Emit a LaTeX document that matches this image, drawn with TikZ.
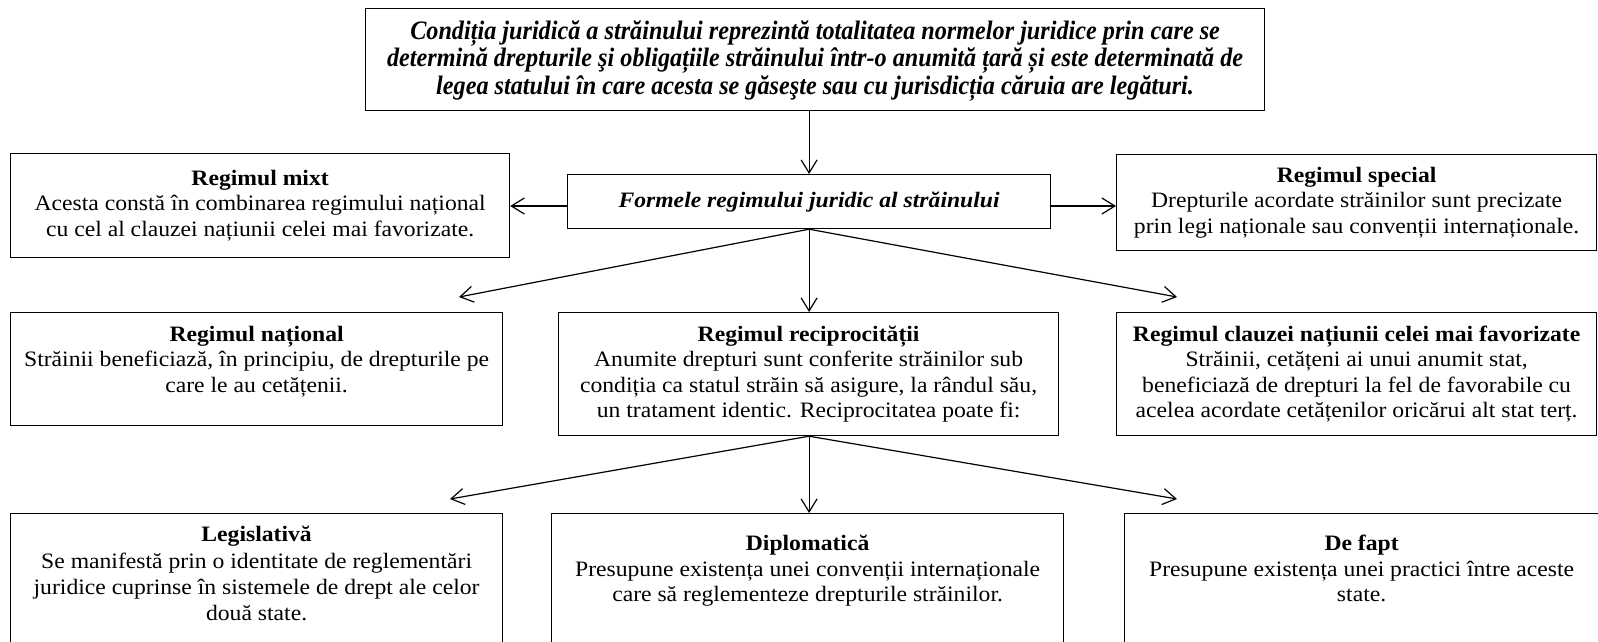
\documentclass[tikz,border=0pt]{standalone}
\usepackage{fontspec}
\setmainfont{Liberation Serif}[FakeStretch=1.075]
\newfontfamily\topfont{Liberation Serif}[FakeStretch=0.91]
\usetikzlibrary{arrows.meta,calc}
\tikzset{
  box/.style={draw=black, line width=1.2pt, rectangle, inner sep=0pt},
  txt/.style={align=center, inner sep=0pt, font=\fontsize{22}{25.5}\selectfont},
  toptxt/.style={align=center, inner sep=0pt, font=\topfont\fontsize{26.6}{27.5}\selectfont\bfseries\itshape},
  arr/.style={line width=1.2pt, -{Straight Barb[length=13pt,width=16pt,line width=1.2pt]}}
}
\newcommand{\mkbox}[5]{% name, x1, y1, x2, y2
  \node[box, minimum width={#4-#2}, minimum height={#5-#3}, anchor=north west] (#1) at (#2,#3) {};}
\begin{document}
\begin{tikzpicture}[x=1pt,y=-1pt]
\useasboundingbox (0,0) rectangle (1598,641);
% boxes
\mkbox{top}{365}{8}{1264}{110}
\mkbox{forme}{567}{174}{1050}{228}
\mkbox{mixt}{10}{153}{509}{257}
\mkbox{spec}{1116}{154}{1596}{250}
\mkbox{nat}{10}{312}{502}{425}
\mkbox{rec}{558}{312}{1058}{435}
\mkbox{clauz}{1116}{312}{1596}{435}
\mkbox{legis}{10}{513}{502}{680}
\mkbox{dipl}{551}{513}{1063}{680}
\mkbox{fapt}{1124}{513}{1620}{680}
% texts
\node[toptxt] (toptext) at ($(top.center)+(0,1)$) {Condiția juridică a străinului reprezintă totalitatea normelor juridice prin care se\\ determină drepturile şi obligațiile străinului într-o anumită țară și este determinată de\\ legea statului în care acesta se găseşte sau cu jurisdicția căruia are legături.};
\node[txt, font=\fontsize{22}{25.5}\selectfont\bfseries\itshape] (formetext) at (forme.center) {Formele regimului juridic al străinului};
\node[txt] (mixttext) at (mixt.center) {\textbf{Regimul mixt}\\ Acesta constă în combinarea regimului național\\ cu cel al clauzei națiunii celei mai favorizate.};
\node[txt] (spectext) at (spec.center) {\textbf{Regimul special}\\ Drepturile acordate străinilor sunt precizate\\ prin legi naționale sau convenții internaționale.};
\node[txt, anchor=north] (nattext) at ($(nat.north)+(0,14)$) {\textbf{Regimul național}\\ Străinii beneficiază, în principiu, de drepturile pe\\ care le au cetățenii.};
\node[txt] (rectext) at (rec.center) {\textbf{Regimul reciprocității}\\ Anumite drepturi sunt conferite străinilor sub\\ condiția ca statul străin să asigure, la rândul său,\\ un tratament identic. Reciprocitatea poate fi:};
\node[txt] (clauztext) at (clauz.center) {\textbf{Regimul clauzei națiunii celei mai favorizate}\\ Străinii, cetățeni ai unui anumit stat,\\ beneficiază de drepturi la fel de favorabile cu\\ acelea acordate cetățenilor oricărui alt stat terț.};
\node[txt, anchor=north, font=\fontsize{22}{26.3}\selectfont] (legistext) at ($(legis.north)+(0,13)$) {\textbf{Legislativă}\\ Se manifestă prin o identitate de reglementări\\ juridice cuprinse în sistemele de drept ale celor\\ două state.};
\node[txt, anchor=north] (dipltext) at ($(dipl.north)+(0,22)$) {\textbf{Diplomatică}\\ Presupune existența unei convenții internaționale\\ care să reglementeze drepturile străinilor.};
\node[txt, anchor=north] (fapttext) at ($(legis.north)+(1105,22)$) {\textbf{De fapt}\\ Presupune existența unei practici între aceste\\ state.};
% free arrow ends
\coordinate (a1) at (459,297);
\coordinate (a3) at (1177,297);
\coordinate (b1) at (450,499);
\coordinate (b3) at (1177,499);
% arrows
\draw[arr] (forme.north |- top.south) -- (forme.north);
\draw[arr] (forme.west |- 0,206) -- (mixt.east |- 0,206);
\draw[arr] (forme.east |- 0,206) -- (spec.west |- 0,206);
\draw[arr] (forme.south) -- (a1);
\draw[arr] (forme.south) -- (forme.south |- nat.north);
\draw[arr] (forme.south) -- (a3);
\draw[arr] (forme.south |- rec.south) -- (b1);
\draw[arr] (forme.south |- rec.south) -- (forme.south |- dipl.north);
\draw[arr] (forme.south |- rec.south) -- (b3);
\end{tikzpicture}
\end{document}
